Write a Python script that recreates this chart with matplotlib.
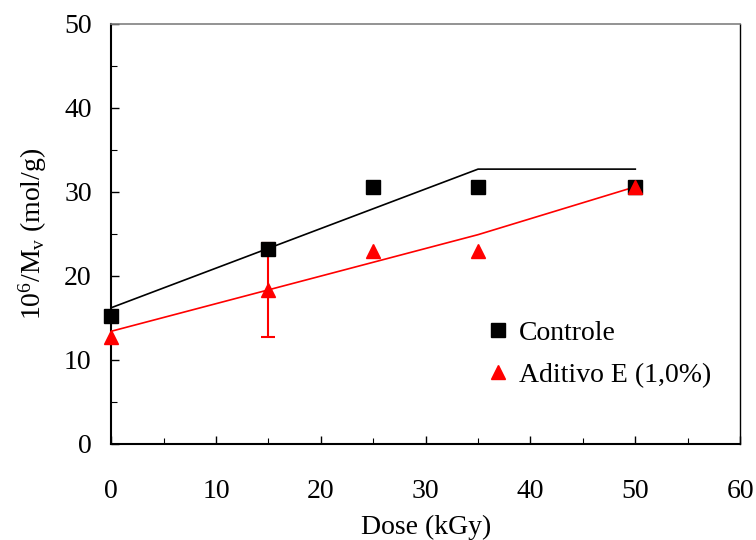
import matplotlib.pyplot as plt
from matplotlib.ticker import MultipleLocator

plt.rcParams['font.family'] = ['Liberation Serif', 'DejaVu Serif']
plt.rcParams['mathtext.fontset'] = 'custom'
plt.rcParams['mathtext.rm'] = 'Liberation Serif'
plt.rcParams['mathtext.it'] = 'Liberation Serif:italic'

# measured points
dose = [0, 15, 25, 35, 50]
controle = [15.2, 23.2, 30.6, 30.6, 30.6]
aditivo = [12.7, 18.3, 23.0, 23.0, 30.6]

# error bar (only the 15 kGy point has one)
err_dose = [15]
err_val = [18.3]
err_size = [5.6]

# fitted curves
fit_dose_c = [0, 35, 50]
fit_c = [16.2, 32.7, 32.7]
fit_dose_a = [0, 35, 50]
fit_a = [13.4, 24.9, 30.6]

fig = plt.figure(figsize=(7.56, 5.4), dpi=100)
ax = fig.add_axes([0.147, 0.178, 0.832, 0.778])

ax.plot(fit_dose_c, fit_c, color='black', lw=1.2, zorder=2)
ax.plot(fit_dose_a, fit_a, color='red', lw=1.2, zorder=2)

ax.errorbar(err_dose, err_val, yerr=err_size, fmt='none', ecolor='red',
            elinewidth=1.5, capsize=5, capthick=1.5, zorder=3)
ax.plot(dose, controle, 's', color='black', ms=10, label='Controle',
        zorder=4, clip_on=False)
ax.plot(dose, aditivo, '^', color='red', ms=10, label='Aditivo E (1,0%)',
        zorder=5, clip_on=False)

ax.set_xlim(0, 60)
ax.set_ylim(0, 50)
ax.xaxis.set_major_locator(MultipleLocator(10))
ax.xaxis.set_minor_locator(MultipleLocator(5))
ax.yaxis.set_major_locator(MultipleLocator(10))
ax.yaxis.set_minor_locator(MultipleLocator(5))
ax.tick_params(which='both', direction='in', labelsize=20)
ax.tick_params(which='major', length=6, width=1)
ax.tick_params(which='minor', length=4, width=0.8)
ax.tick_params(axis='x', pad=25)
ax.tick_params(axis='y', pad=14)

ax.spines['left'].set_linewidth(1.5)
ax.spines['bottom'].set_linewidth(1.5)
ax.spines['top'].set_color('#808080')
ax.spines['top'].set_linewidth(1.2)
ax.spines['right'].set_linewidth(1.0)

ax.set_xlabel('Dose (kGy)', fontsize=20, labelpad=8)
ax.set_ylabel(r'10$^{6}$/M$_\mathrm{v}$ (mol/g)', fontsize=20, labelpad=11)

ax.legend(loc='center left', bbox_to_anchor=(0.6, 0.214), frameon=False,
          fontsize=20, handlelength=0.7, handletextpad=0.4, labelspacing=0.6,
          borderpad=0, borderaxespad=0)

fig.savefig('out.png', dpi=100)
